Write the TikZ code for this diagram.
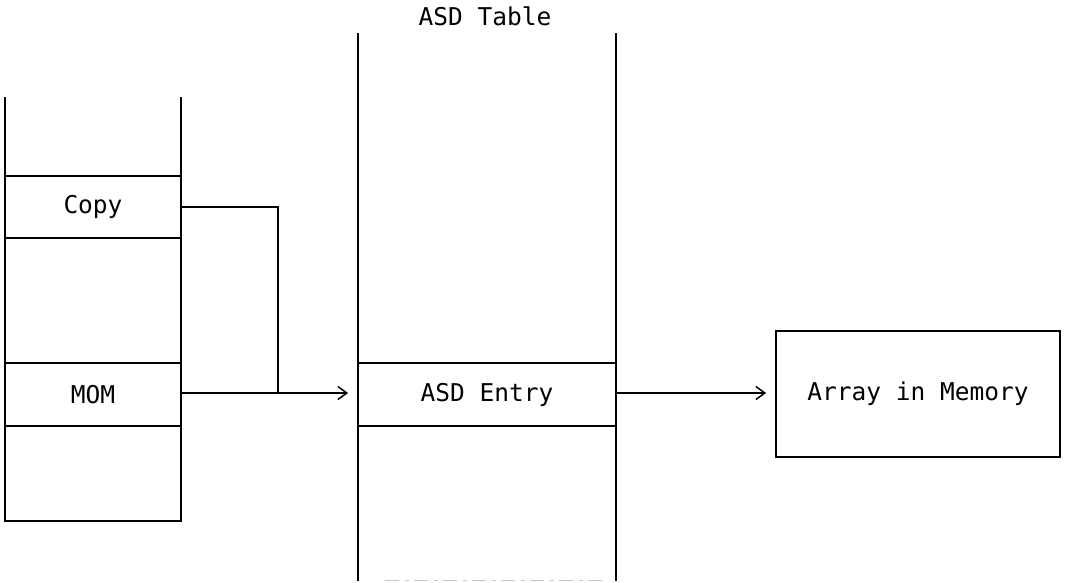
\documentclass[tikz,border=0pt]{standalone}
\usepackage{fontspec}
\newfontfamily\diagfont{DejaVu Sans Mono}
\usetikzlibrary{arrows.meta}
\begin{document}
\begin{tikzpicture}[x=1pt,y=-1pt,
  line width=1.8pt,
  every node/.style={font=\diagfont\fontsize{24.5}{30}\selectfont},
  cell/.style={draw, rectangle, inner sep=0pt, line width=1.8pt},
  arr/.style={-{Straight Barb[length=9pt,width=13pt,line width=1.5pt]}, line width=1.5pt, shorten >=9pt},
  link/.style={line width=1.5pt}
]
\useasboundingbox (0,0) rectangle (1065,582);
% left stack
\draw (5,97) -- (5,521) -- (181,521) -- (181,97);
\node[cell, minimum width=176pt, minimum height=62pt] (copy) at (93,207) {Copy};
\node[cell, minimum width=176pt, minimum height=63pt] (mom) at (93,394.5) {MOM};
% ASD table
\node (title) at (485,16) {ASD Table};
\draw (358,33) -- (358,581);
\draw (616,33) -- (616,581);
\draw[line width=1pt, gray!45, dash pattern=on 14pt off 6pt on 4pt off 5pt] (385,580) -- (608,580);
\node[cell, minimum width=258pt, minimum height=63pt] (entry) at (487,394.5) {ASD Entry};
% array
\node[cell, minimum width=284pt, minimum height=126pt] (array) at (918,394) {Array in Memory};
% connectors
\coordinate (j) at (278,393);
\draw[link] (copy.east) -| (j);
\draw[arr] (mom.east |- j) -- (entry.west |- j);
\draw[arr] (entry.east |- j) -- (array.west |- j);
\end{tikzpicture}
\end{document}
